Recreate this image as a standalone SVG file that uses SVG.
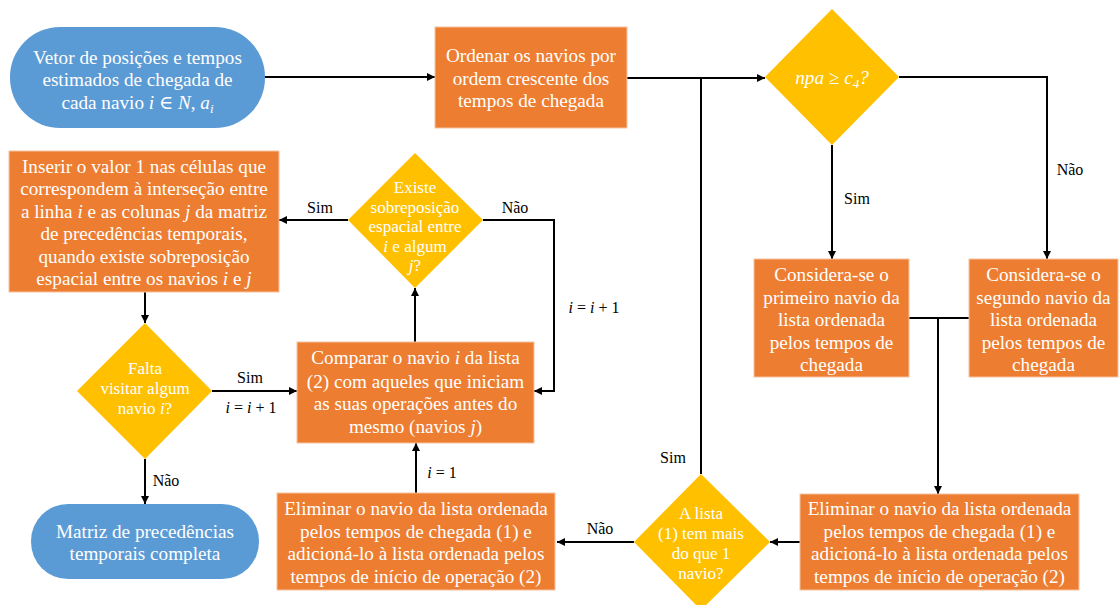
<svg xmlns="http://www.w3.org/2000/svg" width="1119" height="605" viewBox="0 0 1119 605">
  <defs>
    <marker id="arrow" viewBox="0 0 10 10" refX="10" refY="5" markerWidth="8" markerHeight="8" markerUnits="userSpaceOnUse" orient="auto">
      <path d="M0,0 L10,5 L0,10 z" fill="#000"/>
    </marker>
    <style>
      .term { fill: #5B9BD5; }
      .proc { fill: #ED7D31; stroke: #F6C3A0; stroke-width: 1; }
      .dec { fill: #FFC000; }
      text { font-family: "Liberation Serif", "Times New Roman", Tinos, "DejaVu Serif", serif; }
      .t { font-size: 19.2px; fill: #fff; text-anchor: middle; }
      .td { font-size: 17px; fill: #fff; text-anchor: middle; }
      .lbl { font-size: 16px; fill: #000; text-anchor: middle; }
      .m { font-style: italic; }
      .edge { fill: none; stroke: #000; stroke-width: 2; }
      .arr { marker-end: url(#arrow); }
    </style>
  </defs>
  <rect width="1119" height="605" fill="#fff"/>

  <!-- connectors -->
  <g id="connectors">
    <path class="edge arr" d="M265 77 H435"/>
    <path class="edge arr" d="M627 78 H765"/>
    <path class="edge" d="M701 474 V78"/>
    <path class="edge arr" d="M899 77 H1047 V259"/>
    <path class="edge arr" d="M832 145 V259"/>
    <path class="edge" d="M909 318 H969"/>
    <path class="edge arr" d="M938 318 V494"/>
    <path class="edge arr" d="M800 542 H770"/>
    <path class="edge arr" d="M634 542 H557"/>
    <path class="edge arr" d="M416 493 V443"/>
    <path class="edge arr" d="M415 342 V288"/>
    <path class="edge arr" d="M348 220 H279"/>
    <path class="edge arr" d="M483 220 H554 V391 H534"/>
    <path class="edge arr" d="M145 292 V323"/>
    <path class="edge arr" d="M212 391 H297"/>
    <path class="edge arr" d="M145 459 V504"/>
  </g>

  <!-- edge labels -->
  <g id="labels">
    <text class="lbl" x="857" y="204">Sim</text>
    <text class="lbl" x="1070" y="175">Não</text>
    <text class="lbl" x="320" y="213">Sim</text>
    <text class="lbl" x="515" y="213">Não</text>
    <text class="lbl" x="594" y="313"><tspan class="m">i</tspan> = <tspan class="m">i</tspan> + 1</text>
    <text class="lbl" x="250" y="383">Sim</text>
    <text class="lbl" x="251" y="413"><tspan class="m">i</tspan> = <tspan class="m">i</tspan> + 1</text>
    <text class="lbl" x="442" y="478"><tspan class="m">i</tspan> = 1</text>
    <text class="lbl" x="166" y="486">Não</text>
    <text class="lbl" x="600" y="534">Não</text>
    <text class="lbl" x="673" y="463">Sim</text>
  </g>

  <!-- start terminal -->
  <g id="start">
    <rect class="term" x="10" y="27" width="255" height="101" rx="50" ry="50"/>
    <text class="t" x="137.5" y="63.5">Vetor de posições e tempos</text>
    <text class="t" x="137.5" y="86">estimados de chegada de</text>
    <text class="t" x="137.5" y="108.5">cada navio <tspan class="m">i</tspan> ∈ <tspan class="m">N</tspan>, <tspan class="m">a</tspan><tspan class="m" font-size="13" dy="4">i</tspan></text>
  </g>

  <g id="sort">
    <rect class="proc" x="435" y="27" width="192" height="101"/>
    <text class="t" x="531" y="62">Ordenar os navios por</text>
    <text class="t" x="531" y="84.5">ordem crescente dos</text>
    <text class="t" x="531" y="107">tempos de chegada</text>
  </g>

  <g id="check-npa">
    <polygon class="dec" points="832,9 899,77 832,145 765,77"/>
    <text class="t m" x="832" y="84">npa ≥ c<tspan font-size="13" dy="4">4</tspan><tspan dy="-4">?</tspan></text>
  </g>

  <g id="first-ship">
    <rect class="proc" x="754" y="259" width="155" height="118"/>
    <text class="t" x="831.5" y="281">Considera-se o</text>
    <text class="t" x="831.5" y="304">primeiro navio da</text>
    <text class="t" x="831.5" y="326">lista ordenada</text>
    <text class="t" x="831.5" y="349">pelos tempos de</text>
    <text class="t" x="831.5" y="371">chegada</text>
  </g>

  <g id="second-ship">
    <rect class="proc" x="969" y="259" width="149" height="118"/>
    <text class="t" x="1043.5" y="281">Considera-se o</text>
    <text class="t" x="1043.5" y="304">segundo navio da</text>
    <text class="t" x="1043.5" y="326">lista ordenada</text>
    <text class="t" x="1043.5" y="349">pelos tempos de</text>
    <text class="t" x="1043.5" y="371">chegada</text>
  </g>

  <g id="move-ship-a">
    <rect class="proc" x="800" y="494" width="279" height="96"/>
    <text class="t" x="939.5" y="515">Eliminar o navio da lista ordenada</text>
    <text class="t" x="939.5" y="537.5">pelos tempos de chegada (1) e</text>
    <text class="t" x="939.5" y="560">adicioná-lo à lista ordenada pelos</text>
    <text class="t" x="939.5" y="582.5">tempos de início de operação (2)</text>
  </g>

  <g id="check-list">
    <polygon class="dec" points="701,474 770,542 701,610 634,542"/>
    <text class="td" x="701" y="519">A lista</text>
    <text class="td" x="701" y="539">(1) tem mais</text>
    <text class="td" x="701" y="559">do que 1</text>
    <text class="td" x="701" y="579">navio?</text>
  </g>

  <g id="move-ship-b">
    <rect class="proc" x="277" y="493" width="278" height="97"/>
    <text class="t" x="416" y="515">Eliminar o navio da lista ordenada</text>
    <text class="t" x="416" y="537.5">pelos tempos de chegada (1) e</text>
    <text class="t" x="416" y="560">adicioná-lo à lista ordenada pelos</text>
    <text class="t" x="416" y="582.5">tempos de início de operação (2)</text>
  </g>

  <g id="compare">
    <rect class="proc" x="297" y="342" width="237" height="101"/>
    <text class="t" x="415.5" y="364">Comparar o navio <tspan class="m">i</tspan> da lista</text>
    <text class="t" x="415.5" y="387.5">(2) com aqueles que iniciam</text>
    <text class="t" x="415.5" y="410">as suas operações antes do</text>
    <text class="t" x="415.5" y="433">mesmo (navios <tspan class="m">j</tspan>)</text>
  </g>

  <g id="check-overlap">
    <polygon class="dec" points="415,153 483,220 415,288 348,220"/>
    <text class="td" x="415" y="193">Existe</text>
    <text class="td" x="415" y="212.5">sobreposição</text>
    <text class="td" x="415" y="232">espacial entre</text>
    <text class="td" x="415" y="251.5"><tspan class="m">i</tspan> e algum</text>
    <text class="td" x="415" y="271"><tspan class="m">j</tspan>?</text>
  </g>

  <g id="insert">
    <rect class="proc" x="9" y="151" width="270" height="141"/>
    <text class="t" x="144" y="173">Inserir o valor 1 nas células que</text>
    <text class="t" x="144" y="195">correspondem à interseção entre</text>
    <text class="t" x="144" y="218">a linha <tspan class="m">i</tspan> e as colunas <tspan class="m">j</tspan> da matriz</text>
    <text class="t" x="144" y="240">de precedências temporais,</text>
    <text class="t" x="144" y="263">quando existe sobreposição</text>
    <text class="t" x="144" y="285">espacial entre os navios <tspan class="m">i</tspan> e <tspan class="m">j</tspan></text>
  </g>

  <g id="check-remaining">
    <polygon class="dec" points="145,323 212,391 145,459 77,391"/>
    <text class="td" x="145" y="374">Falta</text>
    <text class="td" x="145" y="394">visitar algum</text>
    <text class="td" x="145" y="414">navio <tspan class="m">i</tspan>?</text>
  </g>

  <g id="end">
    <rect class="term" x="31" y="504" width="228" height="75" rx="37" ry="37"/>
    <text class="t" x="145" y="538">Matriz de precedências</text>
    <text class="t" x="145" y="560">temporais completa</text>
  </g>
</svg>
